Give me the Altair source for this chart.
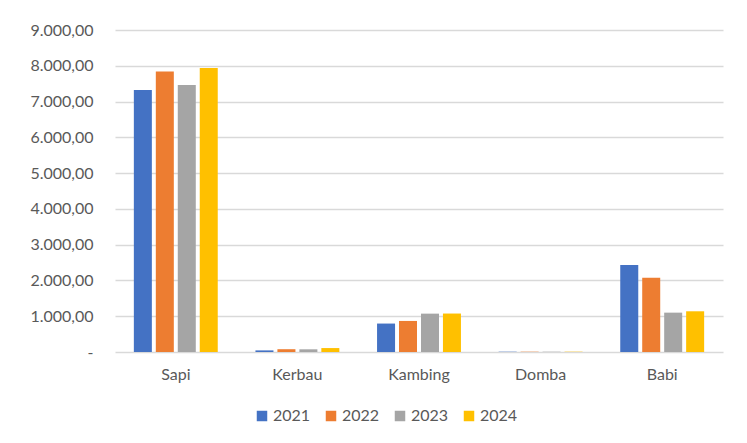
import altair as alt
import pandas as pd

categories = ["Sapi", "Kerbau", "Kambing", "Domba", "Babi"]
years = ["2021", "2022", "2023", "2024"]
v2021 = [7325, 45, 795, 8, 2430]
v2022 = [7840, 78, 868, 8, 2078]
v2023 = [7462, 75, 1072, 8, 1100]
v2024 = [7938, 110, 1075, 8, 1138]
colors = ["#4472C4", "#ED7D31", "#A5A5A5", "#FFC000"]
y_ticks = [0, 1000, 2000, 3000, 4000, 5000, 6000, 7000, 8000, 9000]

rows = []
for yr, vals in zip(years, [v2021, v2022, v2023, v2024]):
    for c, v in zip(categories, vals):
        rows.append({"Jenis": c, "Tahun": yr, "Nilai": v})
df = pd.DataFrame(rows)

FONT = "Lato"
GRAY = "#595959"

bars = alt.Chart(df).mark_bar().encode(
    x=alt.X("Jenis:N", sort=categories, title=None,
            scale=alt.Scale(paddingInner=0.31, paddingOuter=0.155),
            axis=alt.Axis(labelAngle=0, labelPadding=14, ticks=False, domain=False,
                          grid=False,
                          labelFontSize=16, labelColor=GRAY, labelFont=FONT)),
    xOffset=alt.XOffset("Tahun:N", sort=years, scale=alt.Scale(paddingInner=0.18)),
    y=alt.Y("Nilai:Q", title=None,
            scale=alt.Scale(domain=[0, 9000], nice=False),
            axis=alt.Axis(values=y_ticks, ticks=False, domain=False, labelPadding=22,
                          labelFontSize=16, labelColor=GRAY, labelFont=FONT,
                          gridColor="#d9d9d9", gridWidth=1.5,
                          labelExpr="datum.value == 0 ? '-\u00a0\u00a0\u00a0' : replace(replace(replace(format(datum.value, ',.2f'), ',', '_'), '.', ','), '_', '.')")),
    color=alt.Color("Tahun:N", sort=years, title=None,
                    scale=alt.Scale(domain=years, range=colors),
                    legend=alt.Legend(orient="none", legendX=139, legendY=378,
                                      direction="horizontal", symbolType="square",
                                      symbolSize=110, symbolStrokeWidth=0,
                                      labelFontSize=16, labelColor=GRAY, labelFont=FONT,
                                      labelOffset=3, columnPadding=12, padding=0)),
)

chart = bars.properties(
    width=608, height=322,
    background="white",
    autosize=alt.AutoSizeParams(type="none"),
    padding={"left": 107, "top": 22, "right": 16, "bottom": 83},
).configure_view(strokeWidth=0)

chart.save("out.html", embed_options={"renderer": "svg", "actions": False})
